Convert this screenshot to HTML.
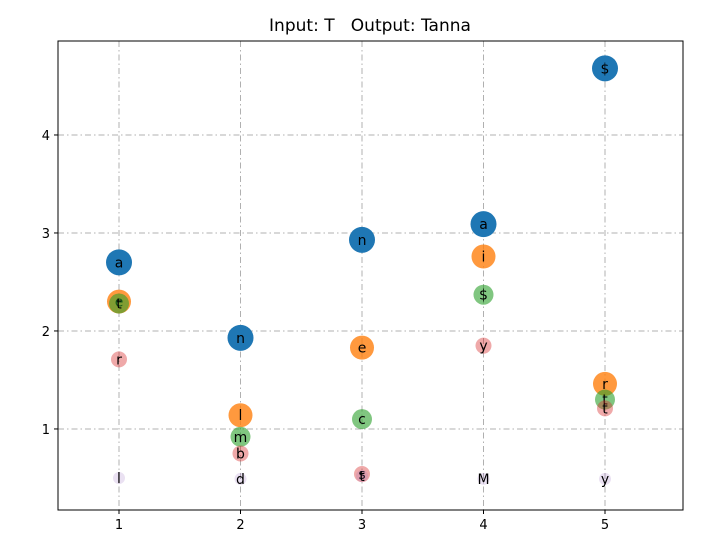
<!DOCTYPE html>
<html><head><meta charset="utf-8"><style>
body{margin:0;background:#fff}
svg{font-family:"DejaVu Sans","Liberation Sans",sans-serif}
text{white-space:pre}
</style></head><body>
<svg id="c" width="719" height="539" xmlns="http://www.w3.org/2000/svg"></svg>
<script>
const positions=[1,2,3,4,5];
const rank1Letters=['a','n','n','a','$'];
const rank1Values=[2.70,1.93,2.93,3.09,4.68];
const rank2Letters=['e','l','e','i','r'];
const rank2Values=[2.30,1.14,1.83,2.76,1.46];
const rank3Letters=['t','m','c','$','t'];
const rank3Values=[2.28,0.92,1.10,2.37,1.30];
const rank4Letters=['r','b','s','y','t'];
const rank4Values=[1.71,0.75,0.54,1.85,1.21];
const rank5Letters=['l','d','t','M','y'];
const rank5Values=[0.50,0.49,0.52,0.49,0.49];
const xTicks=[1,2,3,4,5];
const yTicks=[1,2,3,4];
const L=58,R=683,T=41,B=510;
const x0=0.4979,x1=5.642,y0=0.173,y1=4.959;
const sx=v=>L+(v-x0)/(x1-x0)*(R-L);
const sy=v=>B-(v-y0)/(y1-y0)*(B-T);
const svg=document.getElementById('c');
const NS='http://www.w3.org/2000/svg';
function mk(t,a,p){const e=document.createElementNS(NS,t);for(const k in a)e.setAttribute(k,a[k]);(p||svg).appendChild(e);return e;}
const title=mk('text',{x:370,y:31,'text-anchor':'middle','font-size':17});
title.textContent='Input: T   Output: Tanna';


const grid=mk('g',{});


xTicks.forEach(t=>{
  mk('line',{x1:sx(t),x2:sx(t),y1:T,y2:B,stroke:'#b0b0b0','stroke-dasharray':'6,3,1.5,3'},grid);
  mk('line',{x1:sx(t),x2:sx(t),y1:B,y2:B+4,stroke:'#000'});
  const l=mk('text',{x:sx(t),y:B+19,'text-anchor':'middle','font-size':13});
  l.textContent=t;
  
  
});
yTicks.forEach(t=>{
  mk('line',{x1:L,x2:R,y1:sy(t),y2:sy(t),stroke:'#b0b0b0','stroke-dasharray':'6,3,1.5,3'},grid);
  mk('line',{x1:L-4,x2:L,y1:sy(t),y2:sy(t),stroke:'#000'});
  const l=mk('text',{x:L-8,y:sy(t)+5,'text-anchor':'end','font-size':13});
  l.textContent=t;
  
  
});
const series=[
 [rank1Letters,rank1Values,'#1f77b4',1,13,'rank1'],
 [rank2Letters,rank2Values,'#ff7f0e',0.8,12,'rank2'],
 [rank3Letters,rank3Values,'#2ca02c',0.6,10,'rank3'],
 [rank4Letters,rank4Values,'#d62728',0.4,8,'rank4'],
 [rank5Letters,rank5Values,'#9467bd',0.2,6,'rank5']];
series.forEach(s=>{
  positions.forEach((p,i)=>{
    const c=mk('circle',{cx:sx(p),cy:sy(s[1][i]),r:s[4],fill:s[2],'fill-opacity':s[3]});
    
    
    const t=mk('text',{x:sx(p),y:sy(s[1][i])+5,'text-anchor':'middle','font-size':14});
    t.textContent=s[0][i];
    
    
  });
});
const frame=mk('rect',{x:L,y:T,width:R-L,height:B-T,fill:'none',stroke:'#000'});


</script>
</body></html>
